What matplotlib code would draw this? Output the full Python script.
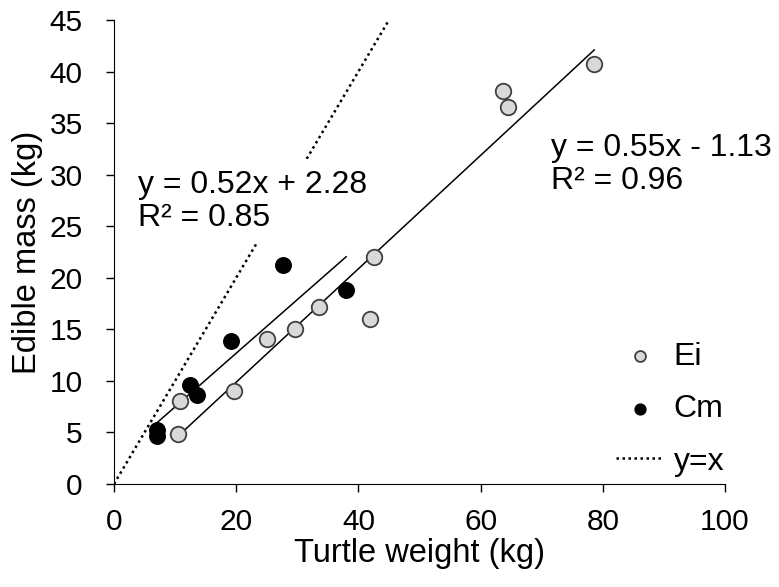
import numpy as np
import matplotlib.pyplot as plt

plt.rcParams['font.family'] = ['Liberation Sans', 'DejaVu Sans']

# Ei (gray) turtles: weight vs edible mass
ei_weight = [10.5, 10.8, 19.6, 25.0, 29.6, 33.5, 41.9, 42.6, 63.7, 64.5, 78.6]
ei_mass = [4.8, 8.0, 9.0, 14.1, 15.0, 17.2, 16.0, 22.0, 38.1, 36.6, 40.7]

# Cm (black) turtles
cm_weight = [7.0, 7.0, 12.4, 13.6, 19.1, 27.7, 38.0]
cm_mass = [4.7, 5.2, 9.6, 8.6, 13.9, 21.2, 18.8]

# fitted lines shown on the chart
ei_slope, ei_icpt, ei_r2 = 0.55, -1.13, 0.96
cm_slope, cm_icpt, cm_r2 = 0.52, 2.28, 0.85

fig = plt.figure(figsize=(7.79, 5.87), dpi=100)
ax = fig.add_axes([0.1463, 0.1755, 0.7844, 0.7904])

# y = x reference line
xx = np.array([0, 45])
ax.plot(xx, xx, color='black', linestyle=(0, (1, 1.4)), linewidth=1.8, label='y=x', zorder=1)

# trend lines across each species' data range
x_ei = np.array([min(ei_weight), max(ei_weight)])
ax.plot(x_ei, ei_slope * x_ei + ei_icpt, color='black', linewidth=1.1, zorder=2)
x_cm = np.array([min(cm_weight), max(cm_weight)])
ax.plot(x_cm, cm_slope * x_cm + cm_icpt, color='black', linewidth=1.1, zorder=2)

ax.scatter(ei_weight, ei_mass, s=125, facecolor='#d9d9d9', edgecolor='#404040',
           linewidth=1.3, label='Ei', zorder=3)
ax.scatter(cm_weight, cm_mass, s=125, facecolor='black', edgecolor='black',
           linewidth=1.0, label='Cm', zorder=3)

# equations
ax.text(3.9, 27.4, f'y = {cm_slope:.2f}x + {cm_icpt:.2f}\nR² = {cm_r2:.2f}', fontsize=23,
        va='center', ha='left', linespacing=1.12,
        bbox=dict(facecolor='white', edgecolor='none', pad=8), zorder=4)
ax.text(71.5, 31.0, f'y = {ei_slope:.2f}x - {abs(ei_icpt):.2f}\nR² = {ei_r2:.2f}', fontsize=23,
        va='center', ha='left', linespacing=1.12, zorder=4)

ax.set_xlim(0, 100)
ax.set_ylim(0, 45)
ax.set_xticks(range(0, 101, 20))
ax.set_yticks(range(0, 46, 5))
ax.tick_params(labelsize=21.5, direction='out', length=5.5, width=1)
ax.tick_params(axis='x', pad=12)
ax.tick_params(axis='y', pad=17)
ax.spines['top'].set_visible(False)
ax.spines['right'].set_visible(False)
ax.set_xlabel('Turtle weight (kg)', fontsize=23.5, labelpad=1)
ax.set_ylabel('Edible mass (kg)', fontsize=23.5, labelpad=5)

handles, labels = ax.get_legend_handles_labels()
order = [labels.index('Ei'), labels.index('Cm'), labels.index('y=x')]
leg = ax.legend([handles[i] for i in order], [labels[i] for i in order],
                loc='lower right', bbox_to_anchor=(1.046, -0.046), frameon=False,
                fontsize=23, labelspacing=0.7, handlelength=1.5, handletextpad=0.3,
                markerscale=0.7)

fig.savefig('out.png', dpi=100)
